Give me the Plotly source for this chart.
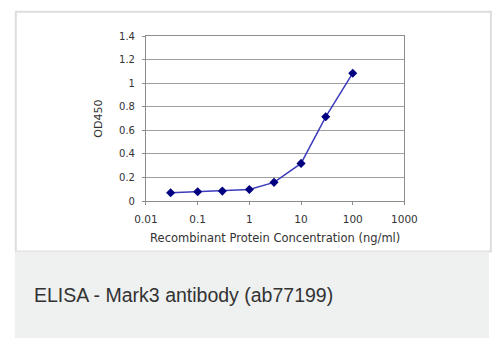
import plotly.graph_objects as go

concentration = [0.03, 0.1, 0.3, 1, 3, 10, 30, 100]
od450 = [0.071, 0.079, 0.085, 0.099, 0.159, 0.32, 0.715, 1.085]
x_tickvals = [0.01, 0.1, 1, 10, 100, 1000]
x_ticktext = ["0.01", "0.1", "1", "10", "100", "1000"]
caption = "ELISA - Mark3 antibody (ab77199)"

W, H = 502, 343
fig = go.Figure()
fig.add_trace(go.Scatter(
    x=concentration, y=od450, mode="lines+markers",
    line=dict(color="#3c3cbc", width=1.5),
    marker=dict(symbol="diamond", size=7, color="#000080"),
    showlegend=False, hoverinfo="skip"))

# panel + caption box
fig.add_shape(type="rect", xref="paper", yref="paper",
              x0=4/W, x1=1.0 + 2/W, y0=(H-254)/H, y1=(H-7)/H,
              line=dict(color="#dddddd", width=2), fillcolor="white", layer="below")
fig.add_shape(type="rect", xref="paper", yref="paper",
              x0=3/W, x1=1.0, y0=0, y1=(H-254)/H,
              line=dict(width=0), fillcolor="#eff0f0", layer="below")
fig.add_annotation(xref="paper", yref="paper", x=21/W, y=(H-299)/H,
                   xanchor="left", yanchor="middle", showarrow=False,
                   text=caption, font=dict(family="Liberation Sans, Arial", size=19.5, color="#333333"))

fig.update_layout(
    width=W, height=H, margin=dict(l=0, r=0, t=0, b=0),
    paper_bgcolor="white", plot_bgcolor="white",
    font=dict(family="DejaVu Sans", color="#333333"),
    xaxis=dict(type="log", range=[-2, 3], domain=[141/W, 413/W],
               tickvals=x_tickvals, ticktext=x_ticktext, showgrid=False,
               showline=True, linecolor="#8c8c8c", linewidth=1, mirror=True,
               ticks="outside", ticklen=3, tickcolor="#8c8c8c", ticklabelstandoff=5,
               tickfont=dict(size=10.5, color="#333333"), zeroline=False,
               title=dict(text="Recombinant Protein Concentration (ng/ml)",
                          font=dict(size=11.5, color="#333333"), standoff=10)),
    yaxis=dict(range=[0, 1.4], dtick=0.2, domain=[(H-202)/H, (H-32)/H],
               showgrid=True, gridcolor="#a0a0a0", gridwidth=1,
               showline=True, linecolor="#8c8c8c", linewidth=1, mirror=True,
               ticks="outside", ticklen=3, tickcolor="#8c8c8c", ticklabelstandoff=5,
               tickfont=dict(size=10, color="#333333"), zeroline=False,
               title=dict(text="OD450", font=dict(size=11, color="#333333"), standoff=14)),
)
fig.write_html("out.html", config={"displayModeBar": False, "staticPlot": True},
               post_script="document.documentElement.style.margin='0';document.body.style.margin='0';document.documentElement.style.overflow='hidden';document.body.style.overflow='hidden';")
